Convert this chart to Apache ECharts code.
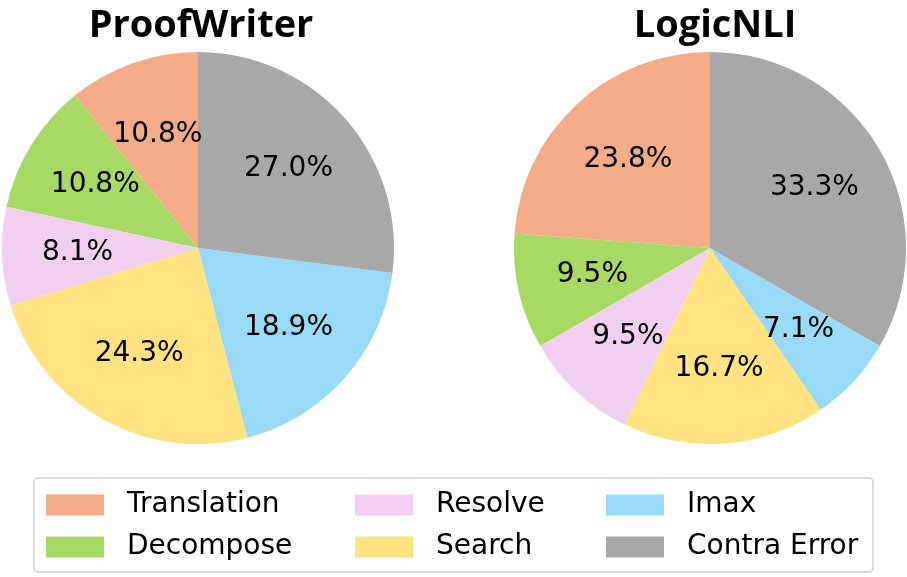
<!DOCTYPE html>
<html>
<head>
<meta charset="utf-8">
<script src="https://cdn.jsdelivr.net/npm/echarts@6/dist/echarts.min.js"></script>
<style>
  html, body { margin: 0; padding: 0; background: #fff; }
  #chart { width: 907px; height: 577px; }
</style>
</head>
<body>
<div id="chart"></div>
<script>
// categories in drawing order (counter-clockwise from 12 o'clock)
const categories = ['Translation', 'Decompose', 'Resolve', 'Search', 'Imax', 'Contra Error']
const colors = ['#F3AC87', '#A8D964', '#F1CFEE', '#FFE380', '#99DBF6', '#A8A8A8']
// percentage shares
const proofWriter = [10.8, 10.8, 8.1, 24.3, 18.9, 27.0]
const logicNLI = [23.8, 9.5, 9.5, 16.7, 7.1, 33.3]

const R = 196

function toData(values) {
  return categories.map((name, i) => ({ name, value: values[i] }))
}

function pieSeries(values, center) {
  return [
    {
      type: 'pie',
      center,
      radius: [0, R],
      startAngle: 90,
      clockwise: false,
      silent: true,
      label: { show: false },
      labelLine: { show: false },
      itemStyle: { borderWidth: 0 },
      emphasis: { disabled: true },
      data: toData(values)
    },
    // transparent ring only used to place labels at 0.6 of radius
    {
      type: 'pie',
      center,
      radius: [R * 0.2, R],
      startAngle: 90,
      clockwise: false,
      silent: true,
      itemStyle: { color: 'rgba(0,0,0,0)', borderWidth: 0 },
      emphasis: { disabled: true },
      label: {
        show: true,
        position: 'inside',
        color: '#000',
        fontSize: 28,
        fontFamily: 'DejaVu Sans',
        formatter: p => p.value.toFixed(1) + '%'
      },
      labelLine: { show: false },
      data: toData(values)
    }
  ]
}

function legendCol(names, left) {
  return {
    orient: 'vertical',
    left,
    top: 491,
    padding: 0,
    icon: 'rect',
    itemWidth: 58,
    itemHeight: 21,
    itemGap: 14,
    selectedMode: false,
    data: names,
    textStyle: {
      fontSize: 28,
      fontFamily: 'DejaVu Sans',
      color: '#000',
      padding: [0, 0, 0, 18]
    }
  }
}

const titleStyle = { fontSize: 38, fontWeight: 'bold', fontFamily: 'Open Sans', color: '#000' }

const chart = echarts.init(document.getElementById('chart'))
chart.setOption({
  animation: false,
  backgroundColor: '#fff',
  color: colors,
  title: [
    { text: 'ProofWriter', left: 196, textAlign: 'center', top: 2, textStyle: titleStyle },
    { text: 'LogicNLI', left: 710, textAlign: 'center', top: 2, textStyle: titleStyle }
  ],
  graphic: [
    {
      type: 'rect',
      z: 0,
      silent: true,
      shape: { x: 34, y: 478, width: 839, height: 94, r: 4 },
      style: { fill: '#fff', stroke: '#d0d0d0', lineWidth: 1.5 }
    }
  ],
  legend: [
    legendCol(['Translation', 'Decompose'], 46),
    legendCol(['Resolve', 'Search'], 355),
    legendCol(['Imax', 'Contra Error'], 606)
  ],
  series: [
    ...pieSeries(proofWriter, [198, 248]),
    ...pieSeries(logicNLI, [710, 248])
  ]
})
</script>
</body>
</html>
